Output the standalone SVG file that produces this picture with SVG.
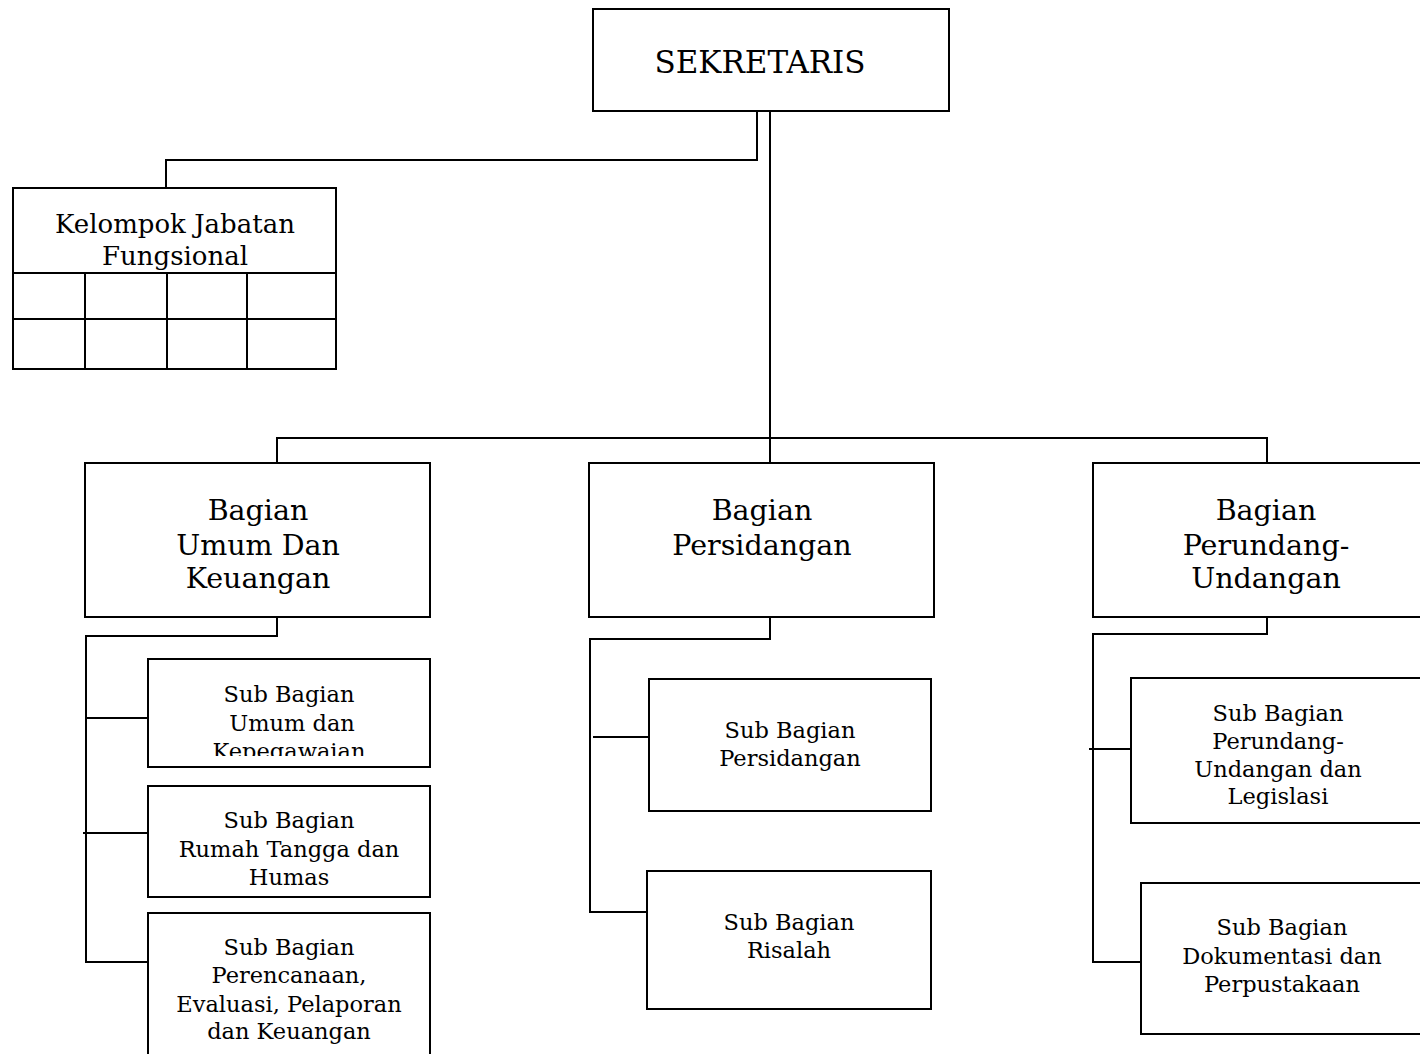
<svg xmlns="http://www.w3.org/2000/svg" width="1420" height="1054" viewBox="0 0 1420 1054">
  <style>
    .box { fill: #ffffff; stroke: #000000; stroke-width: 2; }
    .ln { fill: none; stroke: #000000; stroke-width: 2; }
    text { font-family: "DejaVu Serif", "Liberation Serif", serif; fill: #000000; text-anchor: middle; }
    .t1 { font-size: 31px; }
    .t2 { font-size: 28.5px; }
    .t3 { font-size: 26px; }
    .t4 { font-size: 22.5px; }
  </style>
  <defs>
    <clipPath id="clipKepeg">
      <rect x="148" y="659" width="282" height="97"/>
    </clipPath>
  </defs>
  <rect width="1420" height="1054" fill="#ffffff"/>

  <!-- connectors -->
  <g id="connectors">
    <polyline class="ln" points="757,111 757,160 166,160 166,188"/>
    <line class="ln" x1="770" y1="111" x2="770" y2="462"/>
    <polyline class="ln" points="277,462 277,438 1267,438 1267,462"/>
    <!-- Bagian Umum dan Keuangan -->
    <polyline class="ln" points="277,617 277,636 86,636 86,962 148,962"/>
    <line class="ln" x1="86" y1="718" x2="148" y2="718"/>
    <line class="ln" x1="83" y1="833" x2="148" y2="833"/>
    <!-- Bagian Persidangan -->
    <polyline class="ln" points="770,617 770,639 590,639 590,912 647,912"/>
    <line class="ln" x1="593" y1="737" x2="649" y2="737"/>
    <!-- Bagian Perundang-Undangan -->
    <polyline class="ln" points="1267,617 1267,634 1093,634 1093,962 1141,962"/>
    <line class="ln" x1="1089" y1="749" x2="1131" y2="749"/>
  </g>

  <g id="sekretaris">
    <rect class="box" x="593" y="9" width="356" height="102"/>
    <text class="t1" x="760" y="73">SEKRETARIS</text>
  </g>

  <g id="kelompok-jabatan-fungsional">
    <rect class="box" x="13" y="188" width="323" height="181"/>
    <line class="ln" x1="13" y1="273" x2="336" y2="273"/>
    <line class="ln" x1="13" y1="319" x2="336" y2="319"/>
    <line class="ln" x1="85" y1="273" x2="85" y2="369"/>
    <line class="ln" x1="167" y1="273" x2="167" y2="369"/>
    <line class="ln" x1="247" y1="273" x2="247" y2="369"/>
    <text class="t3" x="175" y="233">Kelompok Jabatan</text>
    <text class="t3" x="175" y="265">Fungsional</text>
  </g>

  <g id="bagian-umum">
    <rect class="box" x="85" y="463" width="345" height="154"/>
    <text class="t2" x="258" y="520">Bagian</text>
    <text class="t2" x="258" y="555">Umum Dan</text>
    <text class="t2" x="258" y="588">Keuangan</text>
  </g>

  <g id="bagian-persidangan">
    <rect class="box" x="589" y="463" width="345" height="154"/>
    <text class="t2" x="762" y="520">Bagian</text>
    <text class="t2" x="762" y="555">Persidangan</text>
  </g>

  <g id="bagian-perundangan">
    <rect class="box" x="1093" y="463" width="346" height="154"/>
    <text class="t2" x="1266" y="520">Bagian</text>
    <text class="t2" x="1266" y="555">Perundang-</text>
    <text class="t2" x="1266" y="588">Undangan</text>
  </g>

  <g id="sub-umum-kepegawaian">
    <rect class="box" x="148" y="659" width="282" height="108"/>
    <g clip-path="url(#clipKepeg)">
      <text class="t4" x="289" y="702">Sub Bagian</text>
      <text class="t4" x="292" y="731">Umum dan</text>
      <text class="t4" x="289" y="759">Kepegawaian</text>
    </g>
  </g>

  <g id="sub-rumah-tangga">
    <rect class="box" x="148" y="786" width="282" height="111"/>
    <text class="t4" x="289" y="828">Sub Bagian</text>
    <text class="t4" x="289" y="857">Rumah Tangga dan</text>
    <text class="t4" x="289" y="885">Humas</text>
  </g>

  <g id="sub-perencanaan">
    <rect class="box" x="148" y="913" width="282" height="150"/>
    <text class="t4" x="289" y="955">Sub Bagian</text>
    <text class="t4" x="289" y="983">Perencanaan,</text>
    <text class="t4" x="289" y="1012">Evaluasi, Pelaporan</text>
    <text class="t4" x="289" y="1039">dan Keuangan</text>
  </g>

  <g id="sub-persidangan">
    <rect class="box" x="649" y="679" width="282" height="132"/>
    <text class="t4" x="790" y="738">Sub Bagian</text>
    <text class="t4" x="790" y="766">Persidangan</text>
  </g>

  <g id="sub-risalah">
    <rect class="box" x="647" y="871" width="284" height="138"/>
    <text class="t4" x="789" y="930">Sub Bagian</text>
    <text class="t4" x="789" y="958">Risalah</text>
  </g>

  <g id="sub-legislasi">
    <rect class="box" x="1131" y="678" width="294" height="145"/>
    <text class="t4" x="1278" y="721">Sub Bagian</text>
    <text class="t4" x="1278" y="749">Perundang-</text>
    <text class="t4" x="1278" y="777">Undangan dan</text>
    <text class="t4" x="1278" y="804">Legislasi</text>
  </g>

  <g id="sub-dokumentasi">
    <rect class="box" x="1141" y="883" width="284" height="151"/>
    <text class="t4" x="1282" y="935">Sub Bagian</text>
    <text class="t4" x="1282" y="964">Dokumentasi dan</text>
    <text class="t4" x="1282" y="992">Perpustakaan</text>
  </g>
</svg>
